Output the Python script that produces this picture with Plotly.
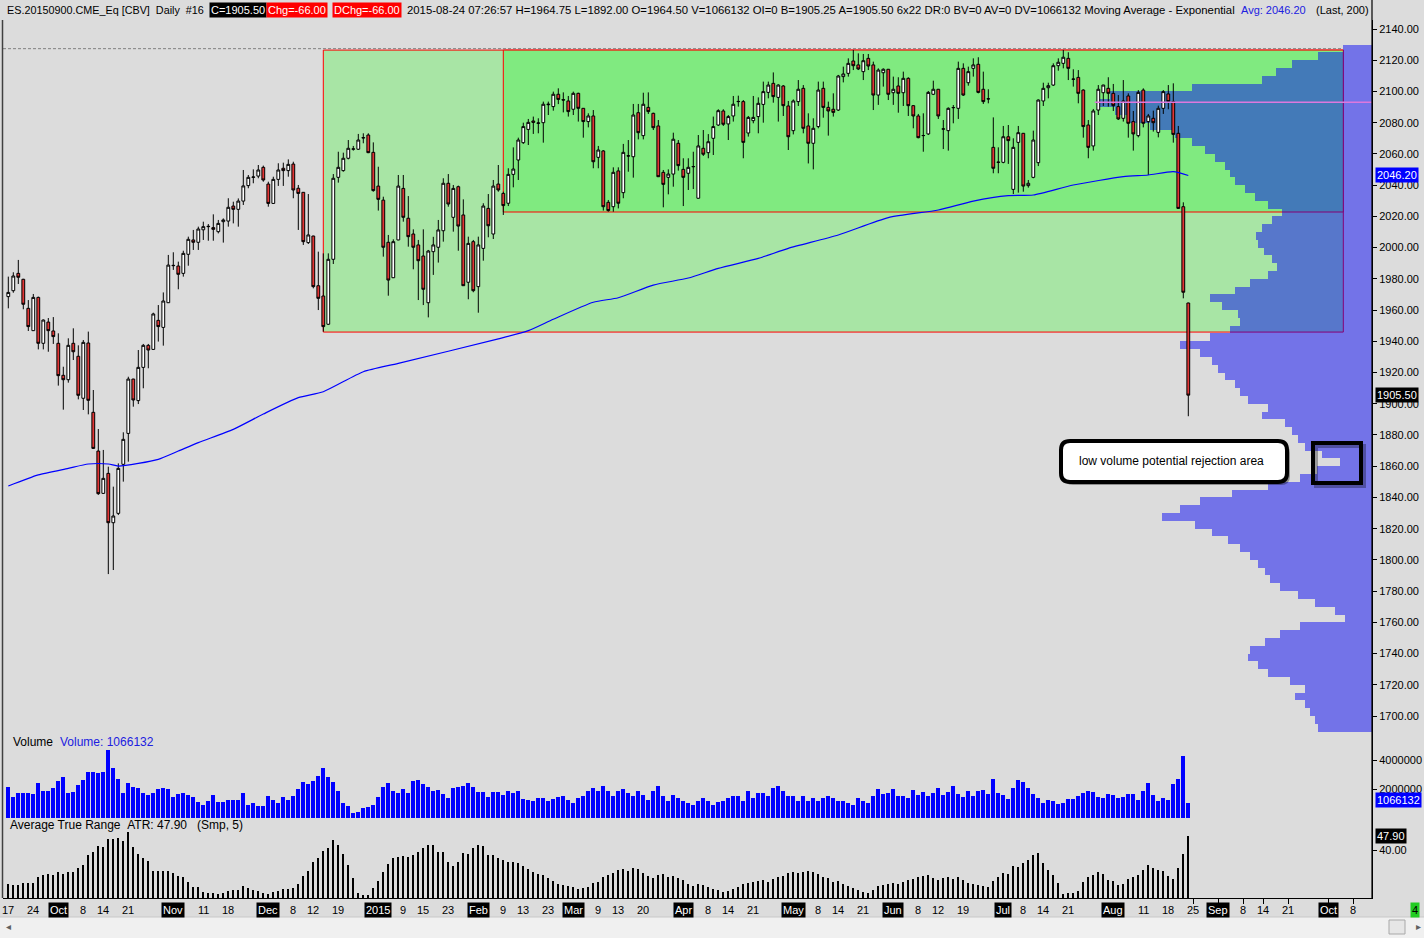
import pandas as pd
import plotly.graph_objects as go

# ---------------- data ----------------
first_day = "2014-09-17"
last_day = "2015-08-24"
holidays = ["2014-11-27", "2014-12-25", "2015-01-01", "2015-01-19",
            "2015-02-16", "2015-05-25", "2015-07-03"]

open_ = [1968.6,1972.4,1983.5,1979.7,1961.1,1946.8,1968.1,1938.7,1952.3,1946.6,
 1938.7,1918.2,1915.4,1938.7,1930.4,1903.5,1938.9,1894.5,1869.7,1842.6,
 1855.4,1823.8,1829.8,1861.2,1881.0,1915.8,1902.0,1923.3,1937.4,1934.8,
 1953.4,1948.9,1964.7,1988.4,1988.2,1983.5,1995.7,2004.9,2003.4,2011.4,
 2013.4,2012.8,2010.2,2016.6,2017.0,2026.6,2024.5,2029.8,2039.7,2045.0,
 2045.8,2051.4,2040.7,2028.3,2043.7,2050.8,2049.3,2053.5,2038.0,2035.4,
 2003.2,2007.4,1975.6,1969.0,1950.9,1992.5,2045.0,2049.3,2057.2,2063.0,
 2063.0,2070.2,2072.1,2061.0,2039.4,2030.4,2003.4,1980.7,2004.9,2037.9,
 2018.8,2008.7,2001.7,1994.6,1964.7,1997.4,2000.2,2010.8,2041.2,2019.4,
 2039.0,2020.9,1977.8,2003.8,1975.0,1999.5,2025.1,2008.7,2040.7,2034.7,
 2028.4,2046.9,2056.1,2067.2,2075.7,2081.1,2079.6,2080.0,2091.5,2090.3,
 2098.2,2094.8,2093.9,2088.6,2098.8,2089.2,2080.7,2084.3,2057.8,2061.9,
 2029.0,2026.2,2049.1,2035.2,2058.8,2058.2,2086.4,2071.7,2089.8,2086.0,
 2077.9,2048.2,2045.0,2047.1,2066.8,2050.1,2047.6,2051.8,2031.6,2063.6,
 2060.8,2070.0,2078.5,2087.5,2079.2,2084.3,2093.5,2093.5,2073.4,2081.3,
 2083.9,2091.7,2099.4,2105.2,2096.2,2103.5,2090.7,2074.9,2093.5,2102.0,
 2077.9,2066.8,2077.5,2102.0,2089.8,2088.6,2088.1,2109.5,2111.6,2119.5,
 2117.0,2112.7,2121.2,2117.0,2097.7,2112.0,2114.2,2099.2,2103.5,2099.2,
 2108.4,2090.9,2084.3,2071.7,2072.8,2098.2,2101.4,2075.9,2074.9,2089.6,
 2089.2,2114.8,2105.6,2114.8,2117.4,2101.4,2095.2,2064.2,2054.6,2054.6,
 2071.0,2037.3,2067.4,2073.2,2039.7,2045.0,2054.4,2093.9,2102.4,2104.1,
 2116.5,2118.0,2121.2,2107.8,2109.0,2100.9,2078.5,2065.1,2088.1,2099.2,
 2102.0,2098.8,2090.3,2082.8,2097.1,2080.7,2071.7,2100.9,2080.7,2082.8,
 2073.8,2089.2,2098.4,2093.5,2073.2,2026.2,1964.5]
high = [1981.4,1984.2,1992.1,1980.0,1966.4,1970.3,1968.6,1954.0,1954.9,1955.5,
 1945.1,1923.7,1941.9,1948.3,1937.4,1940.8,1946.2,1908.8,1883.8,1870.4,
 1859.7,1846.9,1861.8,1881.7,1917.3,1916.0,1934.4,1938.3,1938.3,1958.3,
 1963.2,1971.3,1995.3,1997.0,1991.0,1998.0,2007.0,2011.3,2013.4,2016.6,
 2015.1,2021.3,2017.7,2018.7,2031.6,2029.4,2031.5,2049.7,2046.5,2050.1,
 2052.9,2052.5,2042.2,2045.4,2054.0,2054.4,2056.5,2055.0,2040.1,2035.6,
 2034.3,2007.6,1997.4,1996.3,1996.3,2047.1,2061.4,2060.8,2068.9,2065.1,
 2072.8,2073.2,2073.2,2067.4,2051.8,2032.6,2008.1,2005.3,2046.5,2046.5,
 2033.0,2011.7,2004.9,2011.7,1998.5,2006.9,2017.7,2044.4,2047.1,2040.1,
 2039.7,2030.9,2007.0,2004.9,2007.0,2028.4,2034.3,2043.3,2052.9,2035.8,
 2050.8,2064.2,2070.4,2080.0,2082.4,2083.9,2082.8,2093.5,2093.5,2099.9,
 2102.0,2099.4,2097.1,2099.9,2099.2,2089.4,2086.0,2088.1,2065.1,2062.5,
 2030.5,2051.4,2051.4,2066.4,2068.9,2092.0,2092.0,2099.2,2099.4,2086.4,
 2081.7,2049.7,2050.1,2073.6,2068.9,2057.2,2057.2,2061.4,2072.1,2075.3,
 2072.7,2083.9,2088.6,2088.6,2084.9,2097.1,2097.3,2094.5,2084.3,2097.1,
 2096.2,2106.3,2106.3,2112.2,2104.6,2104.1,2093.9,2094.9,2107.3,2104.1,
 2086.0,2082.8,2106.3,2106.3,2093.5,2098.8,2110.6,2115.9,2121.2,2126.6,
 2124.4,2124.0,2124.0,2119.1,2114.8,2114.8,2114.4,2109.5,2109.1,2112.7,
 2109.1,2091.3,2085.6,2086.0,2100.3,2106.9,2101.6,2081.7,2089.8,2091.3,
 2119.1,2118.0,2115.9,2121.2,2121.9,2112.7,2101.4,2083.4,2064.2,2077.9,
 2078.5,2070.0,2077.9,2073.4,2043.3,2074.9,2094.9,2105.6,2105.6,2118.0,
 2121.2,2126.6,2125.1,2114.2,2113.7,2101.4,2081.7,2088.8,2104.1,2104.3,
 2109.1,2104.8,2097.7,2107.3,2098.8,2087.5,2100.9,2102.0,2085.6,2087.7,
 2090.9,2100.9,2104.1,2105.2,2077.9,2029.0,1964.75]
low = [1961.1,1971.1,1976.7,1960.5,1946.6,1946.6,1934.8,1934.8,1933.3,1938.3,
 1911.6,1896.2,1913.5,1928.0,1902.8,1896.0,1893.2,1871.0,1841.6,1842.2,
 1790.9,1793.5,1828.7,1850.1,1862.9,1898.1,1899.8,1909.9,1922.7,1934.4,
 1939.8,1937.2,1964.5,1985.7,1973.3,1981.4,1988.4,1998.5,1998.5,2004.9,
 2004.4,2004.4,2009.1,2003.2,2013.4,2015.5,2013.4,2027.3,2038.0,2041.2,
 2044.4,2042.2,2026.2,2028.0,2039.5,2039.5,2045.4,2031.6,2011.3,2001.7,
 2002.3,1973.9,1960.0,1946.2,1950.4,1989.5,2041.6,2048.6,2056.5,2062.1,
 2062.5,2066.8,2060.5,2035.8,2023.7,1994.2,1969.2,1980.5,2004.7,2016.6,
 2000.6,1986.1,1966.4,1963.2,1955.3,1982.5,1990.4,2003.8,2026.2,2010.2,
 1998.0,1975.4,1966.9,1971.4,1958.3,1991.6,2006.6,2005.5,2035.8,2020.9,
 2026.6,2038.6,2043.3,2066.4,2065.7,2072.8,2073.2,2067.2,2084.9,2087.7,
 2091.9,2086.6,2083.9,2084.9,2080.7,2070.4,2077.0,2050.8,2050.8,2023.7,
 2023.0,2023.0,2025.1,2031.6,2048.6,2044.8,2069.3,2069.3,2085.6,2075.3,
 2045.2,2025.8,2034.1,2039.0,2049.3,2026.6,2036.9,2037.5,2031.4,2058.7,
 2057.2,2059.3,2077.9,2077.9,2068.9,2080.7,2090.3,2057.2,2071.1,2079.6,
 2073.2,2080.0,2095.6,2092.8,2080.7,2084.3,2062.5,2072.5,2090.7,2073.2,
 2053.9,2050.1,2076.4,2083.2,2071.7,2083.9,2087.5,2105.8,2109.5,2113.7,
 2113.7,2107.3,2113.7,2088.1,2091.4,2103.1,2094.5,2091.4,2086.4,2090.7,
 2084.3,2076.4,2070.0,2061.4,2072.1,2097.7,2082.4,2063.1,2062.1,2079.6,
 2082.4,2097.1,2103.7,2109.5,2098.8,2092.0,2092.4,2047.6,2047.6,2054.0,
 2053.6,2034.3,2035.2,2035.8,2038.4,2044.4,2052.2,2090.7,2095.6,2103.5,
 2113.3,2114.8,2107.3,2103.1,2092.4,2070.4,2057.2,2062.1,2084.9,2090.7,
 2090.3,2087.5,2081.7,2080.7,2070.4,2062.1,2070.6,2077.0,2046.5,2074.3,
 2070.6,2085.6,2088.6,2067.2,2024.8,1967.5,1892.0]
close = [1971.3,1981.8,1981.0,1963.7,1949.4,1968.1,1938.7,1953.6,1946.8,1943.0,
 1918.0,1915.4,1937.4,1933.3,1905.4,1939.3,1902.2,1871.4,1842.4,1852.2,
 1823.8,1828.1,1858.6,1877.2,1915.8,1902.4,1923.3,1937.4,1934.4,1957.5,
 1949.4,1965.8,1988.8,1988.6,1982.9,1996.3,2005.3,2003.4,2011.9,2013.4,
 2013.6,2011.7,2015.5,2017.7,2025.8,2024.5,2029.8,2039.5,2045.0,2045.2,
 2049.7,2043.3,2028.3,2043.7,2049.7,2049.3,2053.3,2036.9,2034.7,2003.8,
 2008.1,1975.0,1967.5,1949.4,1992.5,2044.4,2051.4,2057.2,2063.6,2063.2,
 2068.9,2070.4,2060.8,2036.5,2030.9,2000.2,1979.2,2003.8,2039.4,2019.4,
 2007.0,2000.2,1991.6,1973.3,1997.8,2001.7,2011.3,2041.2,2027.9,2037.9,
 2013.8,1975.6,2002.7,1972.4,2001.7,2026.6,2014.0,2039.4,2036.9,2026.9,
 2046.9,2050.3,2068.9,2077.5,2080.2,2080.2,2079.8,2091.8,2091.8,2098.2,
 2094.9,2094.5,2087.1,2098.8,2089.2,2080.7,2084.3,2055.0,2062.5,2026.2,
 2023.7,2048.2,2028.4,2061.0,2058.7,2084.9,2073.6,2091.8,2087.1,2076.8,
 2045.4,2040.5,2047.1,2069.4,2052.5,2045.0,2051.4,2051.9,2065.1,2059.8,
 2067.8,2077.5,2087.7,2079.0,2083.9,2091.8,2093.6,2067.4,2083.4,2083.4,
 2092.4,2099.9,2104.1,2096.7,2104.1,2090.9,2071.0,2093.9,2101.4,2076.4,
 2066.8,2076.4,2100.9,2089.8,2087.5,2086.6,2109.9,2111.2,2118.0,2116.5,
 2114.4,2119.7,2116.3,2097.7,2113.7,2114.2,2098.2,2101.4,2098.8,2108.4,
 2090.9,2084.3,2070.4,2071.8,2099.4,2101.4,2084.3,2076.0,2089.2,2089.7,
 2114.8,2097.7,2112.7,2117.0,2099.4,2093.5,2095.3,2050.8,2054.7,2071.0,
 2068.5,2064.2,2073.6,2039.4,2041.2,2068.9,2094.5,2102.0,2103.7,2116.5,
 2118.7,2121.9,2114.8,2107.9,2098.8,2077.5,2064.2,2087.5,2101.4,2104.1,
 2098.8,2090.9,2082.4,2093.9,2079.6,2072.8,2099.4,2079.6,2084.3,2080.0,
 2089.2,2099.9,2093.5,2072.5,2025.1,1971.4,1905.5]

volume_millions = [2.16,1.47,1.74,1.70,1.74,1.68,2.43,1.84,1.88,2.07,
 2.57,2.85,1.70,1.82,2.30,2.64,3.19,3.19,3.08,3.19,
 4.71,3.47,2.69,1.74,2.39,2.16,2.07,1.70,1.59,1.70,
 2.00,2.07,2.00,1.47,1.66,1.70,1.59,1.42,1.08,0.92,
 1.19,1.59,1.13,1.13,1.26,1.26,1.24,1.74,0.92,1.06,
 0.85,0.85,1.54,1.26,1.01,1.47,1.26,1.54,2.00,2.50,
 2.34,2.57,2.92,3.47,2.85,2.46,1.86,1.01,0.85,0.32,
 0.43,0.69,0.78,0.92,1.47,2.16,2.43,1.88,1.70,2.00,
 1.70,2.57,2.62,2.34,2.11,1.88,1.95,1.66,1.36,2.07,
 2.11,2.23,2.41,2.11,1.82,1.82,1.47,1.77,1.82,1.60,
 1.85,1.70,1.85,1.30,1.25,1.20,1.40,1.35,1.15,1.30,
 1.45,1.55,1.25,1.05,1.35,1.55,1.85,2.05,1.85,2.20,
 1.85,1.55,1.85,2.00,1.70,1.55,1.85,1.60,1.25,1.85,
 2.20,1.55,1.20,1.60,1.35,1.20,1.05,0.90,1.20,1.35,
 1.20,0.90,1.10,1.20,1.35,1.55,1.55,1.20,1.85,1.40,
 1.70,1.75,1.55,2.05,2.20,1.85,1.55,1.55,1.20,1.50,
 1.20,1.35,1.20,1.35,1.55,1.35,1.20,1.20,1.05,0.90,
 1.35,1.20,1.05,1.55,2.00,1.65,1.75,2.00,1.55,1.55,
 1.35,1.90,1.60,1.80,1.55,1.75,2.05,1.60,1.80,2.20,
 1.65,1.45,1.85,1.55,1.85,1.95,1.65,2.70,1.75,1.60,
 1.32,2.08,2.63,2.50,2.08,1.67,1.39,1.04,1.25,1.18,
 0.97,1.04,1.32,1.32,1.53,1.74,1.88,1.81,1.46,1.39,
 1.67,1.60,1.39,1.46,1.67,1.67,1.25,1.88,2.43,1.60,
 1.18,1.39,1.25,2.36,2.70,4.29,1.066132]

atr = [21.7,21.2,21.2,22.5,22.1,22.5,25.7,26.6,27.2,26.6,
 28.1,27.2,28.1,28.1,30.3,32.1,37.5,39.0,42.5,41.7,
 46.3,46.3,46.6,45.2,49.9,41.7,37.9,35.7,34.3,28.8,
 28.8,28.8,28.8,27.6,26.3,25.7,22.7,19.9,19.9,17.5,
 17.0,17.0,16.1,16.7,17.9,18.5,18.5,20.7,19.7,18.5,
 17.9,16.7,16.1,17.5,17.9,19.0,19.0,19.7,21.6,26.3,
 28.8,33.6,36.1,39.7,41.2,45.7,43.0,37.9,32.1,25.2,
 17.0,15.7,15.7,19.7,23.4,28.1,32.5,35.7,36.6,36.9,
 36.4,37.5,39.0,41.2,43.0,43.0,39.0,39.0,33.6,31.7,
 33.6,38.5,38.2,41.2,43.0,42.6,37.5,37.5,35.7,35.0,
 34.0,33.5,33.0,31.5,30.0,28.5,27.0,26.5,25.0,23.5,
 22.0,21.0,20.5,20.0,19.0,19.5,20.0,22.5,23.0,25.5,
 26.5,28.0,29.5,30.0,29.0,30.5,30.0,28.0,26.0,25.0,
 26.5,27.0,25.5,26.0,25.0,24.0,22.0,20.5,22.0,21.0,
 20.0,19.0,18.5,17.5,18.0,19.0,20.0,22.0,22.5,23.0,
 23.5,24.0,23.0,24.5,25.5,26.0,27.5,28.5,28.0,28.5,
 29.0,28.5,27.0,25.5,25.0,23.0,23.5,22.0,20.5,19.5,
 18.5,17.5,17.0,18.5,20.5,21.0,22.0,22.5,22.0,23.0,
 24.0,24.5,25.5,26.0,26.5,25.0,24.0,25.0,25.5,24.5,
 25.5,24.0,22.5,21.5,21.0,20.5,20.0,23.5,25.5,27.9,
 27.4,31.4,30.8,33.0,34.7,37.4,38.5,33.4,29.2,26.5,
 22.1,16.1,16.6,16.6,17.7,22.6,25.4,26.5,28.1,27.0,
 23.7,23.2,21.0,21.5,24.2,25.4,26.5,29.2,31.9,30.3,
 29.2,28.7,25.9,24.2,30.3,37.9,47.9]

ema_bar = [0, 6, 12, 16, 20, 22, 26, 30, 34, 38, 45, 51, 58, 63, 71, 78, 98, 104,
           109, 117, 122, 129, 136, 142, 150, 156, 166, 176, 186, 193, 200, 205,
           213, 223, 228, 233, 236]
ema_value = [1847.3, 1854.4, 1858.6, 1861.4, 1861.4, 1860.1, 1861.8, 1864.4, 1869.7,
             1875.1, 1883.6, 1893.4, 1903.9, 1907.7, 1920.5, 1925.9, 1941.5, 1946.8,
             1954.1, 1965.0, 1967.9, 1976.0, 1980.5, 1986.7, 1993.1, 1999.5, 2008.1,
             2019.2, 2024.1, 2029.8, 2033.3, 2033.7, 2040.1, 2045.4, 2046.5, 2048.6,
             2046.2]

profile_price = [2127.5,2122.5,2117.5,2112.5,2107.5,2102.5,2097.5,2092.5,2087.5,2082.5,
 2077.5,2072.5,2067.5,2062.5,2057.5,2052.5,2047.5,2042.5,2037.5,2032.5,
 2027.5,2022.5,2017.5,2012.5,2007.5,2002.5,1997.5,1992.5,1987.5,1982.5,
 1977.5,1972.5,1967.5,1962.5,1957.5,1952.5,1947.5,1942.5,1937.5,1932.5,
 1927.5,1922.5,1917.5,1912.5,1907.5,1902.5,1897.5,1892.5,1887.5,1882.5,
 1877.5,1872.5,1867.5,1862.5,1857.5,1852.5,1847.5,1842.5,1837.5,1832.5,
 1827.5,1822.5,1817.5,1812.5,1807.5,1802.5,1797.5,1792.5,1787.5,1782.5,
 1777.5,1772.5,1767.5,1762.5,1757.5,1752.5,1747.5,1742.5,1737.5,1732.5,
 1727.5,1722.5,1717.5,1712.5,1707.5,1702.5,1697.5,1692.5]
profile_volume = [29,54,80,96,110,180,262,275,257,244,
 222,197,180,167,157,147,142,137,127,117,
 104,90,100,110,116,114,108,100,95,104,
 122,137,162,150,134,132,142,162,192,172,
 160,154,147,137,132,124,104,110,87,80,
 74,67,50,32,55,72,104,140,172,192,
 210,177,160,144,132,122,114,107,102,92,
 74,57,37,27,72,92,107,122,124,114,
 104,82,67,77,67,62,57,54]

axis_labels = [("2014-09-17","17"),("2014-09-24","24"),("2014-10-01","Oct"),("2014-10-08","8"),
 ("2014-10-14","14"),("2014-10-21","21"),("2014-11-03","Nov"),("2014-11-11","11"),
 ("2014-11-18","18"),("2014-12-01","Dec"),("2014-12-08","8"),("2014-12-12","12"),
 ("2014-12-19","19"),("2015-01-02","2015"),("2015-01-09","9"),("2015-01-15","15"),
 ("2015-01-23","23"),("2015-02-02","Feb"),("2015-02-09","9"),("2015-02-13","13"),
 ("2015-02-23","23"),("2015-03-02","Mar"),("2015-03-09","9"),("2015-03-13","13"),
 ("2015-03-20","20"),("2015-04-01","Apr"),("2015-04-08","8"),("2015-04-14","14"),
 ("2015-04-21","21"),("2015-05-01","May"),("2015-05-08","8"),("2015-05-14","14"),
 ("2015-05-21","21"),("2015-06-01","Jun"),("2015-06-08","8"),("2015-06-12","12"),
 ("2015-06-19","19"),("2015-07-01","Jul"),("2015-07-08","8"),("2015-07-14","14"),
 ("2015-07-21","21"),("2015-08-03","Aug"),("2015-08-11","11"),("2015-08-18","18"),
 ("2015-08-25","25"),("2015-09-01","Sep"),("2015-09-08","8"),("2015-09-14","14"),
 ("2015-09-21","21"),("2015-10-01","Oct"),("2015-10-08","8")]

price_ticks = list(range(1700, 2141, 20))
last_close = 1905.50
ema_last = 2046.20
last_volume = 1066132
last_atr = 47.90
poc_price = 2093.1
prev_high = 2127.4
range_high = 2126.5
range_low = 1945.9
inner_low = 2022.8
range_start = "2014-12-16"
inner_start = "2015-02-09"
range_end = "2015-10-06"
poc_start = "2015-07-29"

# ---------------- helpers ----------------
FONT = "Liberation Sans, Arial, sans-serif"
W, H = 1424, 938
L, R, T, B = 3, 1372, 20, 898
BG = "#DCDCDC"
RED = "#E23636"


def px(xp):
    return (xp - L) / (R - L)


def py(yp):
    return (B - yp) / (B - T)


hist_days = pd.bdate_range(first_day, last_day)
hist_days = hist_days[~hist_days.isin(pd.to_datetime(holidays))]
future_days = pd.bdate_range(pd.Timestamp(last_day) + pd.Timedelta(days=1), "2015-12-31")
all_days = list(hist_days) + list(future_days)
day_pos = {d.strftime("%Y-%m-%d"): i for i, d in enumerate(all_days)}
bars = list(range(len(close)))
volume = [v * 1e6 for v in volume_millions]

XR = [(L - 8.3) / 5.0, (R - 8.3) / 5.0]

d_atr = py(818)
d_vol = py(733)

fig = go.Figure()

# volume profile (base subplot so that it sits below the candles)
fig.add_trace(go.Bar(x=profile_volume, y=profile_price, orientation="h", width=5,
                     marker=dict(color="rgba(0,0,245,0.48)", line=dict(width=0)),
                     xaxis="x", yaxis="y", hoverinfo="skip", showlegend=False))
# candles
fig.add_trace(go.Candlestick(x=bars, open=open_, high=high, low=low, close=close,
                             xaxis="x4", yaxis="y", whiskerwidth=0,
                             increasing=dict(line=dict(color="black", width=1), fillcolor="white"),
                             decreasing=dict(line=dict(color="black", width=1), fillcolor=RED),
                             showlegend=False))
# EMA 200
fig.add_trace(go.Scatter(x=ema_bar, y=ema_value, mode="lines", xaxis="x4", yaxis="y",
                         line=dict(color="#0000FF", width=1.2, shape="spline", smoothing=0.6),
                         showlegend=False))
# volume
fig.add_trace(go.Bar(x=bars, y=volume, width=0.8, marker=dict(color="#0000FF", line=dict(width=0)),
                     xaxis="x2", yaxis="y2", showlegend=False))
# ATR
fig.add_trace(go.Bar(x=bars, y=atr, width=0.38, marker=dict(color="black", line=dict(width=0)),
                     xaxis="x3", yaxis="y3", showlegend=False))

tickfont = dict(family=FONT, size=11, color="black")
label_pos = [day_pos[d] for d, _ in axis_labels]

fig.update_layout(
    width=W, height=H, margin=dict(l=L, r=W - R, t=T, b=H - B),
    paper_bgcolor=BG, plot_bgcolor=BG, showlegend=False, bargap=0,
    boxgap=0.2,
    xaxis=dict(domain=[0, 1], range=[R - L, 0], anchor="y", visible=False, fixedrange=True),
    xaxis4=dict(overlaying="x", anchor="y", range=XR, visible=False, rangeslider=dict(visible=False)),
    xaxis2=dict(domain=[0, 1], anchor="y2", range=XR, visible=False),
    xaxis3=dict(domain=[0, 1], anchor="y3", range=XR, showgrid=False, zeroline=False,
                showline=True, linecolor="black", linewidth=1,
                tickmode="array", tickvals=label_pos, ticktext=[""] * len(label_pos),
                ticks="outside", ticklen=5, tickcolor="black",
                minor=dict(tickmode="array", tickvals=bars, ticks="inside", ticklen=3,
                           tickcolor="black", tickwidth=1)),
    yaxis=dict(domain=[d_vol, 1], range=[2140 - (733 - 29) / 1.5614, 2140 + 9 / 1.5614],
               side="right", anchor="x", tickmode="array", tickvals=price_ticks,
               tickformat=".2f", ticks="outside", ticklen=4, tickcolor="black",
               tickfont=tickfont, showgrid=False, zeroline=False,
               showline=True, linecolor="black"),
    yaxis2=dict(domain=[d_atr, d_vol], range=[0, (818 - 733) / 29 * 2e6], side="right",
                anchor="x2", tickmode="array", tickvals=[2e6, 4e6], tickformat="d",
                ticks="outside", ticklen=4, tickcolor="black", tickfont=tickfont,
                showgrid=False, zeroline=False, showline=True, linecolor="black"),
    yaxis3=dict(domain=[0, d_atr], range=[40 - (898 - 850.5) / 1.835, 40 + (850.5 - 818) / 1.835],
                side="right", anchor="x3", tickmode="array", tickvals=[40], tickformat=".2f",
                ticks="outside", ticklen=4, tickcolor="black", tickfont=tickfont,
                showgrid=False, zeroline=False, showline=True, linecolor="black"),
)

shapes = []
# range rectangles
shapes.append(dict(type="rect", xref="x4", yref="y", layer="below",
                   x0=day_pos[range_start], x1=day_pos[range_end], y0=range_low, y1=range_high,
                   fillcolor="rgb(168,229,165)", line=dict(color="#FF0000", width=1)))
shapes.append(dict(type="rect", xref="x4", yref="y", layer="below",
                   x0=day_pos[inner_start], x1=day_pos[range_end], y0=inner_low, y1=range_high,
                   fillcolor="rgb(128,234,128)", line=dict(color="#FF0000", width=1)))
# previous high dashed line
shapes.append(dict(type="line", xref="x4", yref="y", layer="above",
                   x0=XR[0], x1=day_pos[range_end], y0=prev_high, y1=prev_high,
                   line=dict(color="#808080", width=1, dash="3px,2px")))
# POC line
shapes.append(dict(type="line", xref="x4", yref="y", layer="above",
                   x0=day_pos[poc_start] - 0.7, x1=XR[1], y0=poc_price, y1=poc_price,
                   line=dict(color="#DD78DD", width=1.6)))
# frame lines
shapes.append(dict(type="line", xref="paper", yref="paper", x0=1, x1=1, y0=py(0), y1=py(898),
                   line=dict(color="black", width=1.2)))
shapes.append(dict(type="line", xref="paper", yref="paper", x0=px(2.5), x1=px(2.5), y0=py(20), y1=py(898),
                   line=dict(color="#404040", width=1.5)))
# scrollbar strip
shapes.append(dict(type="rect", xref="paper", yref="paper", x0=px(0), x1=px(1424), y0=py(917), y1=py(940),
                   fillcolor="#F0F0F0", line=dict(width=0)))
shapes.append(dict(type="line", xref="paper", yref="paper", x0=px(0), x1=px(1424), y0=py(917), y1=py(917),
                   line=dict(color="#C8C8C8", width=1)))
shapes.append(dict(type="rect", xref="paper", yref="paper", x0=px(1389), x1=px(1405), y0=py(934), y1=py(920),
                   fillcolor="#E6E6E6", line=dict(color="#A8A8A8", width=1)))


def rounded(x0, y0, x1, y1, r):
    rx, ry = r / (R - L), r / (B - T)
    X0, X1, Y0, Y1 = px(x0), px(x1), py(y1), py(y0)
    return (f"M {X0+rx},{Y0} L {X1-rx},{Y0} Q {X1},{Y0} {X1},{Y0+ry} L {X1},{Y1-ry} "
            f"Q {X1},{Y1} {X1-rx},{Y1} L {X0+rx},{Y1} Q {X0},{Y1} {X0},{Y1-ry} "
            f"L {X0},{Y0+ry} Q {X0},{Y0} {X0+rx},{Y0} Z")


# callout box with shadow
shapes.append(dict(type="path", xref="paper", yref="paper", layer="above",
                   path=rounded(1064, 444, 1290, 485, 9), fillcolor="rgba(0,0,0,0.35)",
                   line=dict(width=0)))
shapes.append(dict(type="path", xref="paper", yref="paper", layer="above",
                   path=rounded(1061, 441, 1287, 482, 9), fillcolor="white",
                   line=dict(color="black", width=4)))
shapes.append(dict(type="rect", xref="paper", yref="paper", layer="above",
                   x0=px(1316), x1=px(1364), y0=py(486), y1=py(446),
                   line=dict(color="rgba(0,0,0,0.3)", width=4)))
shapes.append(dict(type="rect", xref="paper", yref="paper", layer="above",
                   x0=px(1313), x1=px(1361), y0=py(483), y1=py(443),
                   line=dict(color="black", width=4)))

ann = []


def text(xp, yp, s, color="black", bg=None, size=11, xanchor="left", xref="paper", yref="paper",
         xval=None, yval=None):
    d = dict(xref=xref, yref=yref, x=px(xp) if xval is None else xval,
             y=py(yp) if yval is None else yval, text=s, showarrow=False,
             xanchor=xanchor, yanchor="middle",
             font=dict(family=FONT, size=size, color=color))
    if bg:
        d.update(bgcolor=bg, borderpad=1)
    return d


NB = "\u00a0"
ann.append(text(5, 10, f"ES.20150900.CME_Eq [CBV]{NB}{NB}Daily{NB}{NB}#16", size=10.8))
ann.append(text(209, 10, f"C={last_close:.2f}", color="white", bg="black"))
ann.append(text(266, 10, "Chg=-66.00", color="white", bg="#FF0000"))
ann.append(text(332, 10, "DChg=-66.00", color="white", bg="#FF0000"))
ann.append(text(405, 10, "2015-08-24 07:26:57 H=1964.75 L=1892.00 O=1964.50 V=1066132 OI=0 "
                         "B=1905.25 A=1905.50 6x22 DR:0 BV=0 AV=0 DV=1066132 Moving Average - Exponential",
                size=11.35))
ann.append(text(1239, 10, f"Avg: {ema_last:.2f}", color="#2020E0"))
ann.append(text(1314, 10, "(Last, 200)"))

ann.append(text(11, 742, "Volume", size=12))
ann.append(text(58, 742, f"Volume: {last_volume}", color="#2020E0", size=12))
ann.append(text(8, 825, f"Average True Range{NB}{NB}ATR: {last_atr:.2f}{NB}{NB}{NB}(Smp, 5)", size=12))

ann.append(text(1171, 461, "low volume potential rejection area", size=12, xanchor="center"))

# right axis badges
ann.append(text(1375, 0, f"{ema_last:.2f}", color="white", bg="#0000FF", yref="y", yval=ema_last))
ann.append(text(1375, 0, f"{last_close:.2f}", color="white", bg="black", yref="y", yval=last_close))
ann.append(text(1375, 800, f"{last_volume}", color="white", bg="#0000FF"))
ann.append(text(1375, 836, f"{last_atr:.2f}", color="white", bg="black"))
ann.append(text(1415, 910, "4", color="black", bg="#22CC22", xanchor="center"))

# date labels
for (d, lab), p in zip(axis_labels, label_pos):
    is_month = not lab.isdigit() or lab == "2015"
    ann.append(dict(xref="x3", yref="paper", x=p, y=py(910), text=lab, showarrow=False,
                    xanchor="center", yanchor="middle",
                    font=dict(family=FONT, size=11, color="white" if is_month else "black"),
                    bgcolor="black" if is_month else None, borderpad=1))

ann.append(text(8, 927, "\u25C2", color="#606060", size=10, xanchor="center"))
ann.append(text(1418, 927, "\u25B8", color="#606060", size=10, xanchor="center"))

fig.update_layout(shapes=shapes, annotations=ann)

fig.write_html("out.html", config={"displayModeBar": False},
               post_script="document.body.style.margin='0';document.body.style.overflow='hidden';")
